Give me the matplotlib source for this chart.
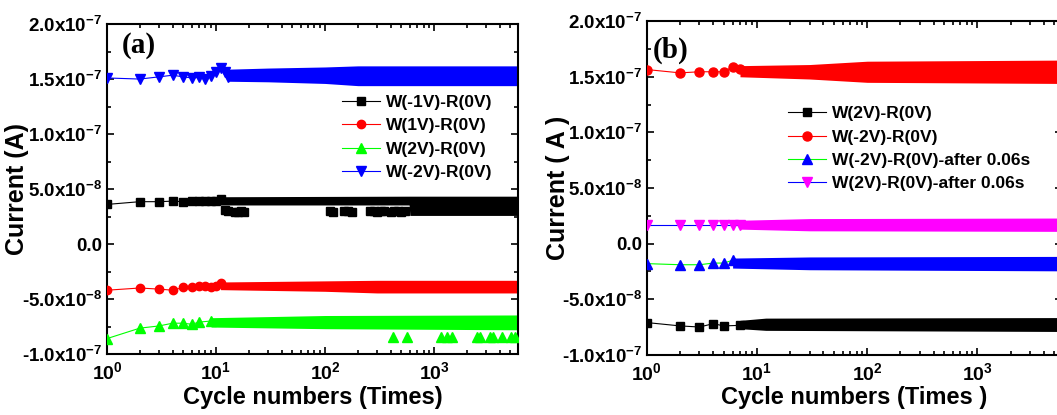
import numpy as np
import matplotlib
matplotlib.use("Agg")
import matplotlib.pyplot as plt
from matplotlib.ticker import FuncFormatter, MultipleLocator, LogLocator, NullFormatter

plt.rcParams['font.family'] = ['Liberation Sans', 'DejaVu Sans']
plt.rcParams['font.weight'] = 'bold'
plt.rcParams['mathtext.default'] = 'regular'

# ---- panel (a) data, current in units of 1e-8 A ----
# first cycles, read point by point
a_black_x = [1, 2, 3, 4, 5, 6, 7, 8, 9, 10, 11]
a_black_y = [3.6, 3.85, 3.85, 3.9, 3.85, 3.9, 3.9, 3.95, 3.95, 3.95, 4.1]
a_red_x = [1, 2, 3, 4, 5, 6, 7, 8, 9, 10, 11]
a_red_y = [-4.2, -4.0, -4.1, -4.2, -3.95, -3.95, -3.85, -3.8, -3.9, -3.8, -3.5]
a_green_x = [1, 2, 3, 4, 5, 6, 7, 9]
a_green_y = [-8.6, -7.65, -7.45, -7.2, -7.2, -7.3, -7.1, -7.0]
a_blue_x = [1, 2, 3, 4, 5, 6, 7, 8, 9, 10, 11, 12, 13]
a_blue_y = [15.1, 15.0, 15.2, 15.35, 15.2, 15.1, 15.15, 15.0, 15.3, 15.6, 16.0, 15.6, 15.2]

# dense region (thousands of cycles) read as the ink envelope of the band
a_black_bx = [11, 590, 600, 5900]
a_black_lo = [3.55, 3.55, 2.6, 2.6]
a_black_hi = [4.3, 4.35, 4.35, 4.35]
a_black_out_x = [12, 13, 15, 16, 17, 18, 112, 118, 150, 162, 175, 260, 280, 300, 325, 345, 400, 430, 465, 500, 540]
a_black_out_y = [3.05, 3.0, 2.95, 2.95, 3.0, 2.95, 3.0, 2.95, 3.0, 3.0, 2.95, 3.0, 3.0, 2.95, 3.0, 3.0, 2.95, 3.0, 3.0, 2.95, 3.0]
a_red_bx = [11, 100, 300, 5900]
a_red_lo = [-4.15, -4.3, -4.45, -4.45]
a_red_hi = [-3.45, -3.35, -3.3, -3.3]
a_green_bx = [9, 100, 5900]
a_green_lo = [-7.55, -7.7, -7.8]
a_green_hi = [-6.7, -6.5, -6.45]
a_green_out_x = [420, 560, 1150, 1300, 1450, 2450, 2650, 3250, 3500, 4200, 5100, 5500]
a_green_out_y = [-8.5, -8.5, -8.5, -8.5, -8.5, -8.5, -8.5, -8.5, -8.5, -8.5, -8.5, -8.5]
a_blue_bx = [13, 30, 100, 200, 5900]
a_blue_lo = [14.8, 14.75, 14.6, 14.4, 14.4]
a_blue_hi = [15.9, 16.0, 16.1, 16.2, 16.2]

# ---- panel (b) data ----
b_black_x = [1, 2, 3, 4, 5, 7]
b_black_y = [-7.1, -7.4, -7.5, -7.2, -7.4, -7.35]
b_red_x = [1, 2, 3, 4, 5, 6, 7]
b_red_y = [15.65, 15.35, 15.45, 15.45, 15.45, 15.9, 15.7]
b_blue_x = [1, 2, 3, 4, 5, 6]
b_blue_y = [-1.8, -1.9, -1.9, -1.75, -1.75, -1.5]
b_mag_x = [1, 2, 3, 4, 5, 6, 7]
b_mag_y = [1.7, 1.7, 1.7, 1.7, 1.7, 1.7, 1.7]

b_black_bx = [7, 12, 5900]
b_black_lo = [-7.65, -7.8, -7.9]
b_black_hi = [-6.9, -6.7, -6.65]
b_red_bx = [7, 30, 100, 5900]
b_red_lo = [15.0, 14.8, 14.5, 14.4]
b_red_hi = [16.0, 16.1, 16.4, 16.5]
b_blue_bx = [6, 30, 5900]
b_blue_lo = [-2.2, -2.35, -2.45]
b_blue_hi = [-1.3, -1.2, -1.15]
b_mag_bx = [7, 30, 5900]
b_mag_lo = [1.3, 1.15, 1.1]
b_mag_hi = [2.1, 2.25, 2.3]

labels_a = ['W(-1V)-R(0V)', 'W(1V)-R(0V)', 'W(2V)-R(0V)', 'W(-2V)-R(0V)']
labels_b = ['W(2V)-R(0V)', 'W(-2V)-R(0V)', 'W(-2V)-R(0V)-after 0.06s', 'W(2V)-R(0V)-after 0.06s']

S = 1e-8


def yfmt(v, pos):
    if abs(v) < 1e-12:
        return '0.0'
    e = int(np.floor(np.log10(abs(v)) + 1e-9))
    m = v / 10 ** e
    return '%.1fx10$^{%d}$' % (m, e)


def xfmt(v, pos):
    return '10$^{%d}$' % int(round(np.log10(v)))


def series(ax, x, y, bx, lo, hi, mcol, lcol, marker, ms, label):
    ax.fill_between(bx, np.array(lo) * S, np.array(hi) * S, color=mcol, lw=0, zorder=2)
    ax.plot(x, np.array(y) * S, color=lcol, lw=0.8, marker=marker, ms=ms,
            mfc=mcol, mec=mcol, label=label, zorder=3)


def style(ax):
    ax.set_xscale('log')
    ax.set_xlim(1, 5900)
    ax.set_ylim(-1e-7, 2e-7)
    ax.yaxis.set_major_locator(MultipleLocator(5e-8))
    ax.yaxis.set_minor_locator(MultipleLocator(2.5e-8))
    ax.yaxis.set_major_formatter(FuncFormatter(yfmt))
    ax.xaxis.set_major_locator(LogLocator(base=10, numticks=10))
    ax.xaxis.set_minor_locator(LogLocator(base=10, subs=np.arange(2, 10), numticks=20))
    ax.xaxis.set_major_formatter(FuncFormatter(xfmt))
    ax.xaxis.set_minor_formatter(NullFormatter())
    ax.tick_params(which='both', direction='in', top=True, right=True, width=1.2, labelsize=13.5)
    ax.tick_params(which='major', length=5)
    ax.tick_params(which='minor', length=3)
    ax.tick_params(axis='x', pad=5, labelsize=14)
    for sp in ax.spines.values():
        sp.set_linewidth(1.5)
    for t in ax.get_xticklabels() + ax.get_yticklabels():
        t.set_fontweight('bold')


fig = plt.figure(figsize=(10.57, 4.15), dpi=100)
ax1 = fig.add_axes([0.1012, 0.147, 0.389, 0.795])
ax2 = fig.add_axes([0.612, 0.145, 0.393, 0.804])

series(ax1, a_black_x, a_black_y, a_black_bx, a_black_lo, a_black_hi, 'black', 'black', 's', 5.5, labels_a[0])
ax1.plot(a_black_out_x, np.array(a_black_out_y) * S, ls='none', marker='s', ms=5.5, color='black', zorder=3)
series(ax1, a_red_x, a_red_y, a_red_bx, a_red_lo, a_red_hi, 'red', 'red', 'o', 6, labels_a[1])
series(ax1, a_green_x, a_green_y, a_green_bx, a_green_lo, a_green_hi, '#00ff00', '#00ff00', '^', 7, labels_a[2])
ax1.plot(a_green_out_x, np.array(a_green_out_y) * S, ls='none', marker='^', ms=7, color='#00ff00', zorder=3)
series(ax1, a_blue_x, a_blue_y, a_blue_bx, a_blue_lo, a_blue_hi, 'blue', 'blue', 'v', 7, labels_a[3])

series(ax2, b_black_x, b_black_y, b_black_bx, b_black_lo, b_black_hi, 'black', 'black', 's', 5.5, labels_b[0])
series(ax2, b_red_x, b_red_y, b_red_bx, b_red_lo, b_red_hi, 'red', 'red', 'o', 6.5, labels_b[1])
series(ax2, b_blue_x, b_blue_y, b_blue_bx, b_blue_lo, b_blue_hi, 'blue', '#00ff00', '^', 7, labels_b[2])
series(ax2, b_mag_x, b_mag_y, b_mag_bx, b_mag_lo, b_mag_hi, '#ff00ff', 'blue', 'v', 7, labels_b[3])

for ax in (ax1, ax2):
    style(ax)

ax1.set_xlabel('Cycle numbers (Times)', fontsize=17, fontweight='bold', labelpad=2)
ax1.set_ylabel('Current (A)', fontsize=18, fontweight='bold')
ax2.set_xlabel('Cycle numbers (Times )', fontsize=17, fontweight='bold', labelpad=2)
ax2.set_ylabel('Current ( A )', fontsize=18, fontweight='bold')
ax1.yaxis.set_label_coords(-0.19, 0.5)
ax2.yaxis.set_label_coords(-0.185, 0.5)

ax1.text(0.035, 0.975, '(a)', transform=ax1.transAxes, fontsize=21, fontweight='bold',
         family='Liberation Serif', va='top')
ax2.text(0.013, 0.955, '(b)', transform=ax2.transAxes, fontsize=21, fontweight='bold',
         family='Liberation Serif', va='top')

leg_kw = dict(frameon=False, numpoints=1, handlelength=2.2, handletextpad=0.3,
              labelspacing=0.47, borderpad=0, borderaxespad=0, prop={'weight': 'bold', 'size': 12.5})
ax1.legend(loc='upper left', bbox_to_anchor=(0.572, 0.785), **leg_kw)
ax2.legend(loc='upper left', bbox_to_anchor=(0.34, 0.745), **leg_kw)

fig.savefig('out.png', dpi=100)
